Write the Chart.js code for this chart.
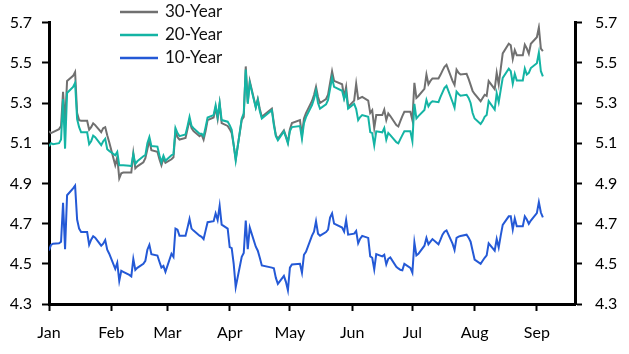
<!DOCTYPE html>
<html>
<head>
<meta charset="utf-8">
<script src="https://cdn.jsdelivr.net/npm/chart.js@4.4.1/dist/chart.umd.min.js"></script>
<style>
  html, body { margin: 0; padding: 0; background: #fff; }
  #wrap { width: 629px; height: 354px; position: relative; }
</style>
</head>
<body>
<div id="wrap"><canvas id="chart"></canvas></div>
<script>
// trading days, 2025
var dates = [
  '01-01','01-02','01-03','01-06','01-07','01-08','01-09','01-10','01-13','01-14','01-15','01-16','01-17','01-20','01-21','01-22','01-23','01-24','01-27','01-28','01-29','01-30','01-31',
  '02-03','02-04','02-05','02-06','02-07','02-10','02-11','02-12','02-13','02-14','02-17','02-18','02-19','02-20','02-21','02-24','02-25','02-26','02-27','02-28',
  '03-03','03-04','03-05','03-06','03-07','03-10','03-11','03-12','03-13','03-14','03-17','03-18','03-19','03-20','03-21','03-24','03-25','03-26','03-27','03-28','03-31',
  '04-01','04-02','04-03','04-04','04-07','04-08','04-09','04-10','04-11','04-14','04-15','04-16','04-17','04-22','04-23','04-24','04-25','04-28','04-29','04-30',
  '05-01','05-02','05-06','05-07','05-08','05-09','05-12','05-13','05-14','05-15','05-16','05-19','05-20','05-21','05-22','05-23','05-27','05-28','05-29','05-30',
  '06-02','06-03','06-04','06-05','06-06','06-09','06-10','06-11','06-12','06-13','06-16','06-17','06-18','06-19','06-20','06-23','06-24','06-25','06-26','06-27','06-30',
  '07-01','07-02','07-03','07-04','07-07','07-08','07-09','07-10','07-11','07-14','07-15','07-16','07-17','07-18','07-21','07-22','07-23','07-24','07-25','07-28','07-29','07-30','07-31',
  '08-01','08-04','08-05','08-06','08-07','08-08','08-11','08-12','08-13','08-14','08-15','08-18','08-19','08-20','08-21','08-22','08-25','08-26','08-27','08-28','08-29',
  '09-01','09-02','09-03','09-04'
];

var y30 = [
  5.160,5.150,5.155,5.170,5.186,5.356,5.200,5.409,5.435,5.454,5.250,5.215,5.212,5.212,5.167,5.180,5.199,5.190,5.155,5.175,5.180,5.140,5.105,
  4.990,5.030,4.925,4.950,4.954,4.954,4.954,5.050,4.975,4.985,5.005,5.025,5.070,5.115,5.065,5.057,5.020,4.990,5.025,5.002,
  5.020,5.030,5.159,5.130,5.118,5.126,5.170,5.215,5.175,5.160,5.135,5.143,5.118,5.160,5.215,5.228,5.277,5.220,5.296,5.200,5.186,
  5.170,5.150,5.090,5.021,5.215,5.231,5.482,5.304,5.409,5.280,5.320,5.270,5.231,5.272,5.200,5.140,5.122,5.164,5.135,5.105,
  5.170,5.200,5.215,5.140,5.223,5.250,5.310,5.340,5.380,5.330,5.300,5.320,5.341,5.400,5.458,5.410,5.393,5.330,5.380,5.280,
  5.312,5.396,5.320,5.325,5.330,5.312,5.250,5.264,5.175,5.240,5.240,5.267,5.215,5.248,5.235,5.190,5.183,5.210,5.235,5.256,5.256,
  5.215,5.400,5.325,5.335,5.370,5.441,5.393,5.410,5.422,5.422,5.440,5.461,5.480,5.490,5.410,5.390,5.466,5.450,5.442,5.445,5.420,5.390,5.360,
  5.345,5.309,5.325,5.341,5.335,5.409,5.369,5.450,5.393,5.470,5.547,5.595,5.587,5.519,5.563,5.538,5.538,5.590,5.571,5.545,5.595,
  5.627,5.676,5.571,5.558
];

var y20 = [
  5.085,5.100,5.095,5.100,5.118,5.320,5.073,5.350,5.380,5.400,5.220,5.180,5.154,5.154,5.095,5.110,5.138,5.130,5.090,5.110,5.122,5.070,5.062,
  5.040,5.057,4.990,4.990,4.990,4.988,4.986,5.046,4.997,5.010,5.035,5.041,5.100,5.131,5.086,5.083,5.040,5.005,5.038,5.013,
  5.040,5.046,5.175,5.150,5.135,5.143,5.185,5.231,5.186,5.175,5.147,5.147,5.135,5.180,5.228,5.240,5.288,5.231,5.300,5.215,5.207,
  5.190,5.167,5.090,5.013,5.223,5.248,5.466,5.296,5.401,5.277,5.315,5.260,5.223,5.264,5.190,5.135,5.115,5.159,5.130,5.099,
  5.160,5.180,5.185,5.122,5.200,5.230,5.290,5.320,5.361,5.300,5.272,5.293,5.315,5.370,5.425,5.380,5.361,5.320,5.353,5.272,
  5.296,5.270,5.215,5.230,5.240,5.231,5.155,5.150,5.089,5.159,5.154,5.175,5.118,5.151,5.140,5.105,5.099,5.120,5.140,5.159,5.159,
  5.110,5.296,5.223,5.235,5.265,5.315,5.283,5.300,5.309,5.304,5.330,5.353,5.375,5.385,5.305,5.277,5.357,5.345,5.336,5.341,5.325,5.300,5.250,
  5.223,5.196,5.210,5.231,5.240,5.309,5.267,5.348,5.304,5.365,5.425,5.471,5.458,5.396,5.445,5.412,5.412,5.471,5.442,5.450,5.474,
  5.498,5.551,5.458,5.433
];

var y10 = [
  4.566,4.594,4.600,4.602,4.610,4.804,4.573,4.841,4.875,4.889,4.720,4.675,4.658,4.658,4.595,4.620,4.637,4.630,4.590,4.600,4.618,4.570,4.550,
  4.475,4.505,4.415,4.465,4.460,4.445,4.437,4.524,4.470,4.480,4.500,4.515,4.570,4.594,4.548,4.541,4.510,4.481,4.489,4.460,
  4.550,4.534,4.675,4.670,4.639,4.639,4.680,4.723,4.675,4.665,4.640,4.634,4.623,4.665,4.707,4.712,4.751,4.718,4.788,4.695,4.675,
  4.583,4.578,4.500,4.384,4.535,4.554,4.715,4.573,4.680,4.585,4.565,4.530,4.492,4.481,4.478,4.430,4.400,4.440,4.410,4.368,
  4.481,4.497,4.500,4.456,4.545,4.560,4.640,4.660,4.712,4.650,4.640,4.658,4.670,4.730,4.751,4.700,4.680,4.660,4.718,4.645,
  4.650,4.663,4.602,4.625,4.639,4.629,4.537,4.530,4.472,4.548,4.537,4.545,4.497,4.525,4.532,4.485,4.477,4.470,4.468,4.500,4.480,
  4.456,4.607,4.542,4.550,4.590,4.629,4.597,4.610,4.623,4.597,4.620,4.645,4.660,4.666,4.600,4.569,4.629,4.635,4.638,4.645,4.630,4.610,4.565,
  4.521,4.500,4.515,4.530,4.542,4.602,4.565,4.623,4.581,4.640,4.694,4.736,4.736,4.671,4.726,4.687,4.687,4.736,4.720,4.699,4.715,
  4.752,4.807,4.755,4.731
];

var months = ['Jan', 'Feb', 'Mar', 'Apr', 'May', 'Jun', 'Jul', 'Aug', 'Sep'];
var yTicks = [4.3, 4.5, 4.7, 4.9, 5.1, 5.3, 5.5, 5.7];

var start = Date.UTC(2025, 0, 1);
function dayNo(s) { return (Date.parse('2025-' + s) - start) / 86400000; }
var monthStarts = months.map(function (m, i) { return (Date.UTC(2025, i, 1) - start) / 86400000; });

function series(vals) {
    return dates.map(function (d, i) { return { x: dayNo(d), y: vals[i] }; });
}

var axisFont = { family: 'Lato', size: 16 };

function yAxis(pos, width, pad) {
    return {
        position: pos,
        min: 4.3,
        max: 5.7,
        afterBuildTicks: function (s) { s.ticks = yTicks.map(function (v) { return { value: v }; }); },
        afterFit: function (s) { s.width = width; },
        ticks: {
            callback: function (v) { return v.toFixed(1); },
            font: axisFont,
            color: '#000',
            padding: pad
        },
        grid: { drawOnChartArea: false, color: '#000', tickLength: 7, tickWidth: 2 },
        border: { color: '#000', width: 3 }
    };
}

var legendBox = {
    id: 'legendBox',
    afterDraw: function (chart) {
        var c = chart.ctx;
        c.save();
        c.font = '17px Lato';
        c.textBaseline = 'middle';
        chart.data.datasets.forEach(function (ds, i) {
            var y = 12 + i * 23;
            c.strokeStyle = ds.borderColor;
            c.lineWidth = 2.5;
            c.beginPath();
            c.moveTo(120, y);
            c.lineTo(158, y);
            c.stroke();
            c.fillStyle = '#111';
            c.fillText(ds.label, 165, y);
        });
        c.restore();
    }
};

window.onload = function () {
    const ctx = document.getElementById('chart');

    new Chart(ctx, {
        type: 'line',
        data: {
            datasets: [
                { label: '30-Year', data: series(y30), borderColor: '#707070', order: 2 },
                { label: '20-Year', data: series(y20), borderColor: '#14b4a4', order: 1 },
                { label: '10-Year', data: series(y10), borderColor: '#2459d6', order: 0 }
            ]
        },
        options: {
            responsive: true,
            maintainAspectRatio: false,
            animation: false,
            layout: { padding: { top: 15, left: 0, right: 0, bottom: 0 } },
            elements: {
                point: { radius: 0 },
                line: { borderWidth: 2, tension: 0 }
            },
            plugins: {
                legend: { display: false },
                tooltip: { enabled: false }
            },
            scales: {
                x: {
                    type: 'linear',
                    min: 0,
                    max: 262,
                    afterBuildTicks: function (s) { s.ticks = monthStarts.map(function (v) { return { value: v }; }); },
                    afterFit: function (s) { s.height = 50; },
                    ticks: {
                        callback: function (v, i) { return months[i]; },
                        font: axisFont,
                        color: '#000',
                        padding: 12,
                        maxRotation: 0,
                        autoSkip: false
                    },
                    grid: { drawOnChartArea: false, color: '#000', tickLength: 7, tickWidth: 2 },
                    border: { color: '#000', width: 3 }
                },
                y: yAxis('left', 49, 10),
                y2: yAxis('right', 54, 13)
            }
        },
        plugins: [legendBox]
    });
};
</script>
</body>
</html>
